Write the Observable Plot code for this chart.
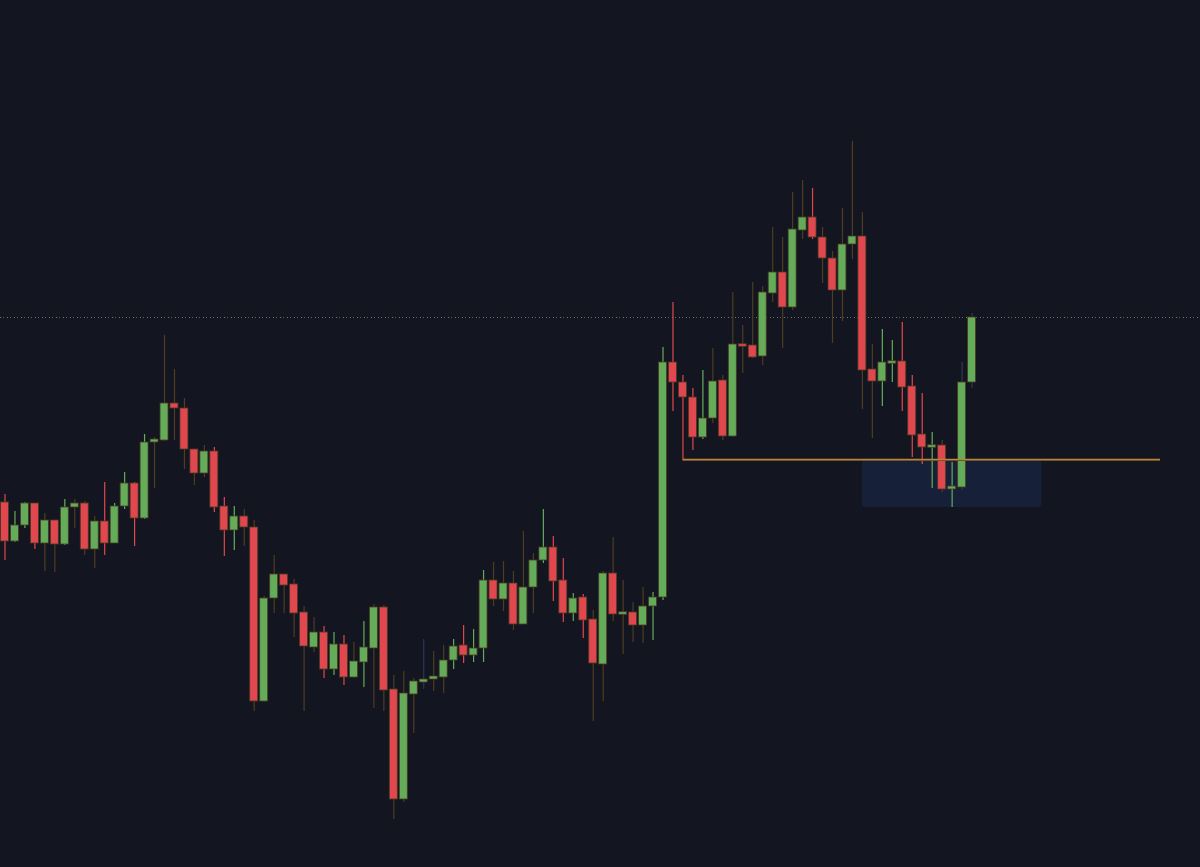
<!DOCTYPE html>
<html><head><meta charset="utf-8">
<script src="https://cdn.jsdelivr.net/npm/d3@7"></script>
<script src="https://cdn.jsdelivr.net/npm/@observablehq/plot@0.6"></script>
<style>html,body{margin:0;padding:0;background:#131620;overflow:hidden}#chart svg{display:block}</style>
</head><body><div id="chart"></div>
<script>
const opens = [136.5,132.6,134.2,136.4,132.4,134.7,132.3,136.0,136.4,131.8,134.6,132.4,136.1,138.4,134.9,142.5,142.7,146.4,145.9,141.8,139.4,141.6,136.1,133.7,135.1,134.0,116.6,126.9,129.3,128.3,125.5,122.0,123.5,119.8,122.3,119.0,120.5,121.9,126.0,117.8,106.8,117.3,118.5,118.8,119.0,120.7,122.2,121.2,121.9,128.7,126.8,128.4,124.3,128.0,130.7,132.0,128.7,125.4,127.0,124.8,120.3,129.4,125.3,125.5,124.2,126.1,127.0,150.5,148.5,147.0,143.0,144.9,148.7,143.1,152.3,152.2,151.1,157.4,159.5,156.0,163.7,165.0,163.0,160.9,157.7,162.3,163.1,149.8,148.6,150.4,150.6,148.1,143.3,142.0,142.2,137.8,138.0,148.5];
const closes = [132.6,134.2,136.4,132.4,134.7,132.3,136.0,136.4,131.8,134.6,132.4,136.1,138.4,134.9,142.5,142.8,146.4,145.9,141.8,139.4,141.6,136.0,133.7,135.1,134.0,116.6,126.9,129.3,128.2,125.4,122.1,123.5,119.8,122.3,119.0,120.6,122.0,126.0,117.7,106.8,117.4,118.6,118.8,119.1,120.7,122.1,121.2,121.9,128.7,126.8,128.4,124.3,128.0,130.7,132.0,128.6,125.4,126.9,124.7,120.4,129.4,125.3,125.5,124.2,126.1,127.0,150.5,148.5,147.0,143.0,144.9,148.6,143.1,152.3,152.1,151.0,157.5,159.5,156.0,163.8,165.0,163.0,160.9,157.7,162.3,163.1,149.7,148.6,150.5,150.6,148.0,143.2,142.0,142.2,137.8,138.1,148.5,155.0];
const highs = [137.3,135.6,136.5,136.4,135.4,134.7,136.8,136.8,136.6,135.1,138.5,136.4,139.5,138.5,143.3,143.0,153.2,149.8,146.9,141.8,142.2,142.0,137.0,136.1,135.8,134.7,127.1,131.2,129.3,128.8,126.1,125.0,124.1,123.5,123.2,122.5,124.6,126.3,126.2,119.2,119.6,118.9,122.8,121.6,122.2,122.8,124.2,123.8,129.7,130.5,130.6,129.6,133.6,131.4,135.8,133.1,130.9,127.4,127.3,125.7,129.6,133.0,128.7,126.5,128.0,127.5,152.0,156.5,149.2,147.9,149.7,151.9,149.2,157.5,154.2,158.5,158.1,164.0,163.0,167.5,168.7,167.9,164.0,161.6,165.9,172.6,165.5,152.3,153.8,152.7,154.5,149.2,147.4,143.5,142.7,140.5,150.5,155.4];
const lows = [130.7,132.5,133.9,131.8,129.6,129.5,132.2,133.9,131.2,129.9,131.2,132.4,135.8,132.1,134.8,137.9,142.6,142.7,139.8,138.2,139.0,135.5,131.1,131.7,132.1,115.6,116.5,125.4,125.4,123.0,115.6,121.5,118.9,119.2,118.2,118.9,118.0,115.9,115.6,104.8,106.5,113.4,117.8,117.6,117.4,119.8,120.4,120.5,120.5,126.1,125.6,123.7,124.3,125.4,130.4,126.6,124.5,124.6,122.9,114.6,116.6,124.6,121.3,122.5,122.4,122.7,126.7,145.6,140.8,141.7,142.8,144.4,142.7,143.0,149.4,150.9,150.2,156.5,151.9,155.7,162.8,162.8,158.4,152.4,154.6,160.8,145.8,142.9,146.1,148.5,145.6,141.0,140.3,137.9,137.5,136.0,137.7,147.9];
// wick tone category per candle: u = up tone, d = down tone, n = neutral, b = blue
const wickTone = ("duudnnunnn" + "duudunnnnn" + "nddunnnnnn" + "nndudnunnn" + "nnbnnuduun" +
                  "nnnnuddudn" + "nnnnnuuddd" + "unnnnnnnnn" + "ndnnnnnnuu" + "dddunubb").split("");

const supportLevel = 140.8, supportFrom = 68, supportTo = 115.9;
const zoneX = [86, 104], zoneY = [136.0, 140.7];
const lastPrice = 155.0;

const candles = opens.map((o, i) => ({i, open: o, close: closes[i], high: highs[i], low: lows[i], tone: wickTone[i]}));
const GREEN = "#65ac5a", RED = "#e1474f";
const toneColor = {u: GREEN, d: RED, n: "#4f3c21", b: "#2c3856"};
const minBody = 0.25;
function bodyLo(d){ const lo = Math.min(d.open,d.close), hi = Math.max(d.open,d.close); return hi-lo < minBody ? (lo+hi)/2 - minBody/2 : lo; }
function bodyHi(d){ const lo = Math.min(d.open,d.close), hi = Math.max(d.open,d.close); return hi-lo < minBody ? (lo+hi)/2 + minBody/2 : hi; }

const chart = Plot.plot({
  width: 1200, height: 867,
  margin: 0,
  style: {background: "#131620"},
  x: {type: "linear", domain: [-0.45, 119.91], axis: null},
  y: {domain: [100, 186.7], axis: null},
  marks: [
    Plot.rect([{x1: zoneX[0], x2: zoneX[1], y1: zoneY[0], y2: zoneY[1]}], {x1: "x1", x2: "x2", y1: "y1", y2: "y2", fill: "#172039", rx: 3}),
    Plot.ruleY([lastPrice], {stroke: "#5f8a5c", strokeWidth: 1, strokeDasharray: "1,6"}),
    Plot.ruleY([lastPrice], {stroke: "#6e5f5a", strokeWidth: 1, strokeDasharray: "1,6", strokeDashoffset: -3}),
    Plot.ruleX(candles, {x: "i", y1: "low", y2: "high", stroke: d => toneColor[d.tone], strokeWidth: 1.2}),
    Plot.rect(candles, {x1: d => d.i - 0.4, x2: d => d.i + 0.4, y1: bodyLo, y2: bodyHi, fill: d => d.close >= d.open ? GREEN : RED, stroke: "#4a3a22", strokeWidth: 0.8}),
    Plot.ruleY([{y: supportLevel, x1: supportFrom, x2: supportTo}], {y: "y", x1: "x1", x2: "x2", stroke: "#5a4422", strokeWidth: 1, dy: 1}),
    Plot.ruleY([{y: supportLevel, x1: supportFrom, x2: supportTo}], {y: "y", x1: "x1", x2: "x2", stroke: "#b9853c", strokeWidth: 1.3})
  ]
});
document.getElementById("chart").append(chart);
</script>
</body></html>
